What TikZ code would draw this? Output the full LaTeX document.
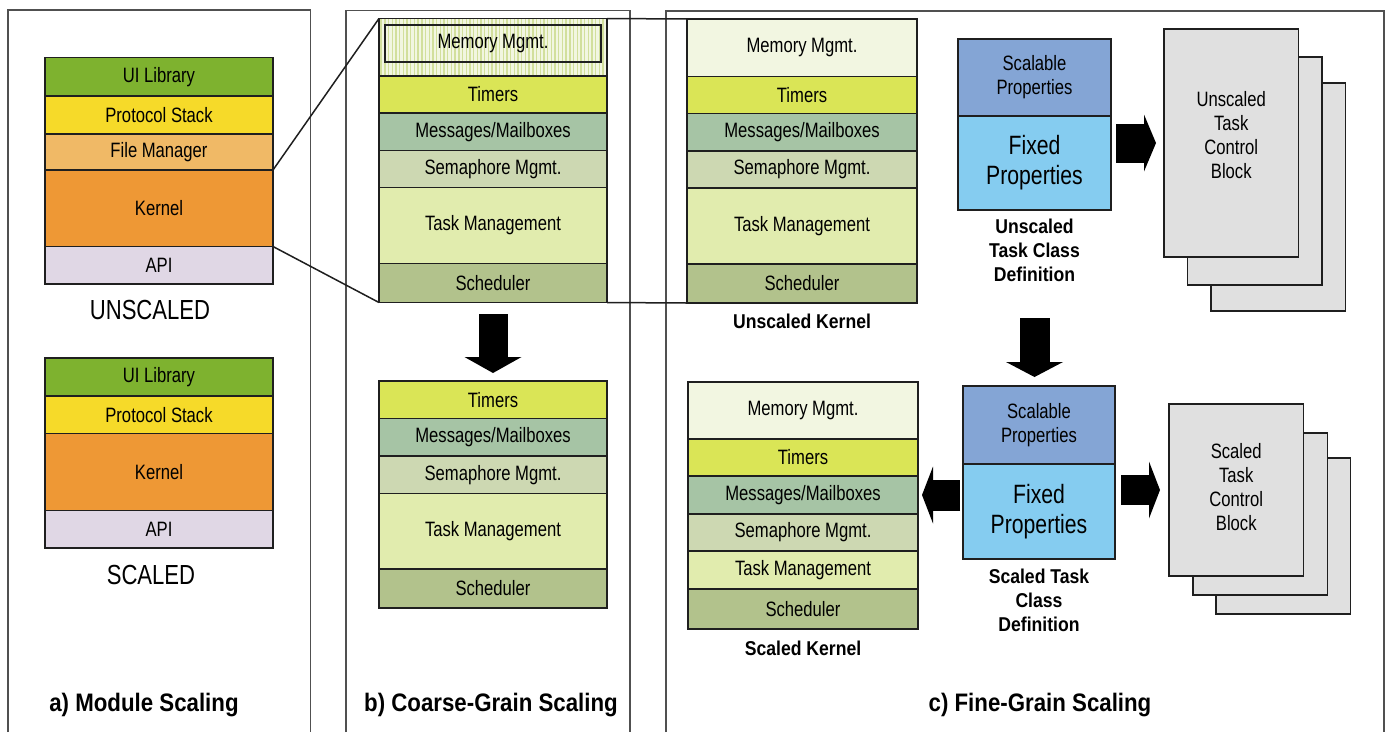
\documentclass[tikz,border=0pt]{standalone}
\usepackage{fontspec}
\setmainfont{Liberation Sans}[FakeStretch=0.8]
\newfontfamily\boldfam{Liberation Sans}[FakeStretch=0.88]
\usepackage{tikz}
\usetikzlibrary{arrows.meta, positioning, patterns.meta}

\definecolor{edge}{HTML}{1F1F1F}
\definecolor{panelgray}{HTML}{505050}
\definecolor{uigreen}{HTML}{7EB22F}
\definecolor{protoyellow}{HTML}{F6DA29}
\definecolor{filetan}{HTML}{F0B966}
\definecolor{kernelorange}{HTML}{EE9835}
\definecolor{apililac}{HTML}{E0D7E5}
\definecolor{memcream}{HTML}{F2F6E1}
\definecolor{stripe}{HTML}{D2DF9C}
\definecolor{timeryellow}{HTML}{DAE556}
\definecolor{msggreen}{HTML}{A6C4A5}
\definecolor{semagreen}{HTML}{CDD8B2}
\definecolor{taskgreen}{HTML}{E1ECAE}
\definecolor{schedgreen}{HTML}{B2C28C}
\definecolor{scalblue}{HTML}{84A5D5}
\definecolor{fixedblue}{HTML}{85CCF0}
\definecolor{tcbgray}{HTML}{E0E0E0}

\newcommand{\layerfont}{\fontsize{20.8}{24}\selectfont}
\newcommand{\fixedfont}{\fontsize{26.5}{30}\selectfont}
\newcommand{\capsfont}{\boldfam\bfseries\fontsize{20}{24}\selectfont}
\newcommand{\panelfont}{\boldfam\bfseries\fontsize{25.3}{30}\selectfont}
\newcommand{\stackfont}{\fontsize{27.6}{30}\selectfont}

\begin{document}
\begin{tikzpicture}[x=1pt, y=-1pt,
        node distance=0pt,
        layer/.style={draw=edge, line width=1.6pt, outer sep=0pt, inner sep=0pt,
                      minimum width=228pt, minimum height=37.5pt, font=\layerfont, align=center},
        tall/.style={minimum height=76pt},
        wide/.style={minimum width=230pt},
        card/.style={draw=edge, line width=1.6pt, fill=tcbgray, outer sep=0pt,
                     minimum width=134.5pt, anchor=north west},
        cardtext/.style={inner sep=0pt, font=\layerfont, align=center},
        caption/.style={inner sep=0pt, font=\capsfont, align=center},
        stacklbl/.style={inner sep=0pt, font=\stackfont},
        title/.style={inner sep=0pt, font=\panelfont, anchor=base},
        panel/.style={draw=panelgray, line width=1.2pt},
        zoomline/.style={draw=edge, line width=1.5pt},
        blockarrow/.style={line width=29pt, draw=black,
                           -{Triangle[length=#1, width=57pt, line width=0pt]}},
        blockarrow/.default=16pt,
    ]
    \useasboundingbox (0,0) rectangle (1390,732);

    % panels
    \draw[panel] (8,732) |- (310.5,10) -- (310.5,732);
    \draw[panel] (346,732) |- (630,10.5) -- (630,732);
    \draw[panel] (666,732) |- (1384,11) -- (1384,732);

    % a) module scaling
    \node[layer, fill=uigreen, anchor=north west, minimum height=38.5pt] (uiA) at (45,57.5) {UI Library};
    \node[layer, fill=protoyellow, below=of uiA, minimum height=38pt] (protoA) {Protocol Stack};
    \node[layer, fill=filetan, below=of protoA, minimum height=36pt] (fileA) {File Manager};
    \node[layer, fill=kernelorange, below=of fileA, minimum height=76.5pt] (kernelA) {Kernel};
    \node[layer, fill=apililac, below=of kernelA] (apiA) {API};
    \node[stacklbl, below=16pt of apiA, xshift=-9pt] (unscaledA) {UNSCALED};

    \node[layer, fill=uigreen, anchor=north west, minimum height=38pt] (uiA2) at (45,358) {UI Library};
    \node[layer, fill=protoyellow, below=of uiA2] (protoA2) {Protocol Stack};
    \node[layer, fill=kernelorange, below=of protoA2, minimum height=77pt] (kernelA2) {Kernel};
    \node[layer, fill=apililac, below=of kernelA2] (apiA2) {API};
    \node[stacklbl, below=17pt of apiA2, xshift=-8pt] (scaledA) {SCALED};

    % b) coarse-grain scaling
    \node[layer, anchor=north west, minimum height=57.5pt, preaction={fill=memcream},
          pattern={Lines[angle=90, distance=3.7pt, line width=1.4pt]}, pattern color=stripe] (memB) at (379,18.5) {};
    \node[layer, minimum width=216pt, minimum height=37pt] (memBin) at ([yshift=3.75pt]memB.center) {Memory Mgmt.};
    \node[layer, fill=timeryellow, below=of memB, minimum height=37pt] (timB) {Timers};
    \node[layer, fill=msggreen, below=of timB] (msgB) {Messages/Mailboxes};
    \node[layer, fill=semagreen, below=of msgB, minimum height=37pt] (semB) {Semaphore Mgmt.};
    \node[layer, fill=taskgreen, tall, below=of semB] (taskB) {Task Management};
    \node[layer, fill=schedgreen, below=of taskB, minimum height=39pt] (schedB) {Scheduler};

    \node[layer, fill=timeryellow, anchor=north west] (timB2) at (379,381) {Timers};
    \node[layer, fill=msggreen, below=of timB2] (msgB2) {Messages/Mailboxes};
    \node[layer, fill=semagreen, below=of msgB2] (semB2) {Semaphore Mgmt.};
    \node[layer, fill=taskgreen, below=of semB2, minimum height=75.5pt] (taskB2) {Task Management};
    \node[layer, fill=schedgreen, below=of taskB2, minimum height=39pt] (schedB2) {Scheduler};

    % c) fine-grain scaling, kernels
    \node[layer, wide, fill=memcream, anchor=north west, minimum height=57.5pt] (memC) at (687,19) {Memory Mgmt.};
    \node[layer, wide, fill=timeryellow, below=of memC, minimum height=37pt] (timC) {Timers};
    \node[layer, wide, fill=msggreen, below=of timC] (msgC) {Messages/Mailboxes};
    \node[layer, wide, fill=semagreen, below=of msgC, minimum height=37pt] (semC) {Semaphore Mgmt.};
    \node[layer, wide, fill=taskgreen, tall, below=of semC] (taskC) {Task Management};
    \node[layer, wide, fill=schedgreen, below=of taskC, minimum height=39pt] (schedC) {Scheduler};
    \node[caption, below=11pt of schedC] (kernU) {Unscaled Kernel};

    \node[layer, wide, fill=memcream, anchor=north west, minimum height=57pt] (memC2) at (688,382) {Memory Mgmt.};
    \node[layer, wide, fill=timeryellow, below=of memC2, minimum height=37pt] (timC2) {Timers};
    \node[layer, wide, fill=msggreen, below=of timC2, minimum height=38pt] (msgC2) {Messages/Mailboxes};
    \node[layer, wide, fill=semagreen, below=of msgC2, minimum height=37pt] (semC2) {Semaphore Mgmt.};
    \node[layer, wide, fill=taskgreen, below=of semC2, minimum height=38pt] (taskC2) {Task Management};
    \node[layer, wide, fill=schedgreen, below=of taskC2, minimum height=40pt] (schedC2) {Scheduler};
    \node[caption, below=11.5pt of schedC2] (kernS) {Scaled Kernel};

    % task classes
    \node[layer, fill=scalblue, anchor=north west, minimum width=153pt, minimum height=77pt] (scalU) at (958,39) {Scalable\\Properties};
    \node[layer, fill=fixedblue, below=of scalU, minimum width=153pt, minimum height=94pt, font=\fixedfont] (fixedU) {Fixed\\Properties};
    \node[caption, below=9pt of fixedU] (classU) {Unscaled\\Task Class\\Definition};

    \node[layer, fill=scalblue, anchor=north west, minimum width=152pt, minimum height=78pt] (scalS) at (963,386) {Scalable\\Properties};
    \node[layer, fill=fixedblue, below=of scalS, minimum width=152pt, minimum height=95pt, font=\fixedfont] (fixedS) {Fixed\\Properties};
    \node[caption, below=10pt of fixedS] (classS) {Scaled Task\\Class\\Definition};

    % task control blocks
    \node[card, minimum height=228pt] (tcbU3) at (1211,83) {};
    \node[card, minimum height=228pt] (tcbU2) at (1187.5,57) {};
    \node[card, minimum height=228pt] (tcbU1) at (1164,29) {};
    \node[cardtext] (tcbUtxt) at ([yshift=8pt]tcbU1.center) {Unscaled\\Task\\Control\\Block};

    \node[card, minimum height=156pt] (tcbS3) at (1216,458) {};
    \node[card, minimum height=162pt] (tcbS2) at (1193,433) {};
    \node[card, minimum height=172pt] (tcbS1) at (1169,404) {};
    \node[cardtext] (tcbStxt) at ([yshift=2.5pt]tcbS1.center) {Scaled\\Task\\Control\\Block};

    % zoom lines
    \draw[zoomline] (fileA.south east) -- (memB.north west);
    \draw[zoomline] (kernelA.south east) -- (schedB.south west);
    \draw[zoomline] (memB.north east) -- (memC.north west);
    \draw[zoomline] (schedB.south east) -- (schedC.south west);

    % block arrows
    \draw[blockarrow, shorten <=11.5pt, shorten >=8pt] (schedB.south) -- (timB2.north);
    \draw[blockarrow=15pt, line width=30pt, shorten <=36pt, shorten >=9pt] (classU.south) -- (classU.south |- scalS.north);
    \draw[blockarrow=12pt, line width=39pt, shorten <=5pt, shorten >=8pt] (fixedU.east |- tcbU1.west) -- (tcbU1.west);
    \draw[blockarrow=11pt, line width=31pt, shorten <=3pt, shorten >=4pt] (fixedS.west |- msgC2.east) -- (msgC2.east);
    \draw[blockarrow=11pt, line width=30pt, shorten <=6pt, shorten >=9pt] (fixedS.east |- tcbS1.west) -- (tcbS1.west);

    % panel titles
    \node[title] (titleA) at (144,711.5) {a) Module Scaling};
    \node[title] (titleB) at (491,711.5) {b) Coarse-Grain Scaling};
    \node[title] (titleC) at (1040,711.5) {c) Fine-Grain Scaling};
\end{tikzpicture}
\end{document}
